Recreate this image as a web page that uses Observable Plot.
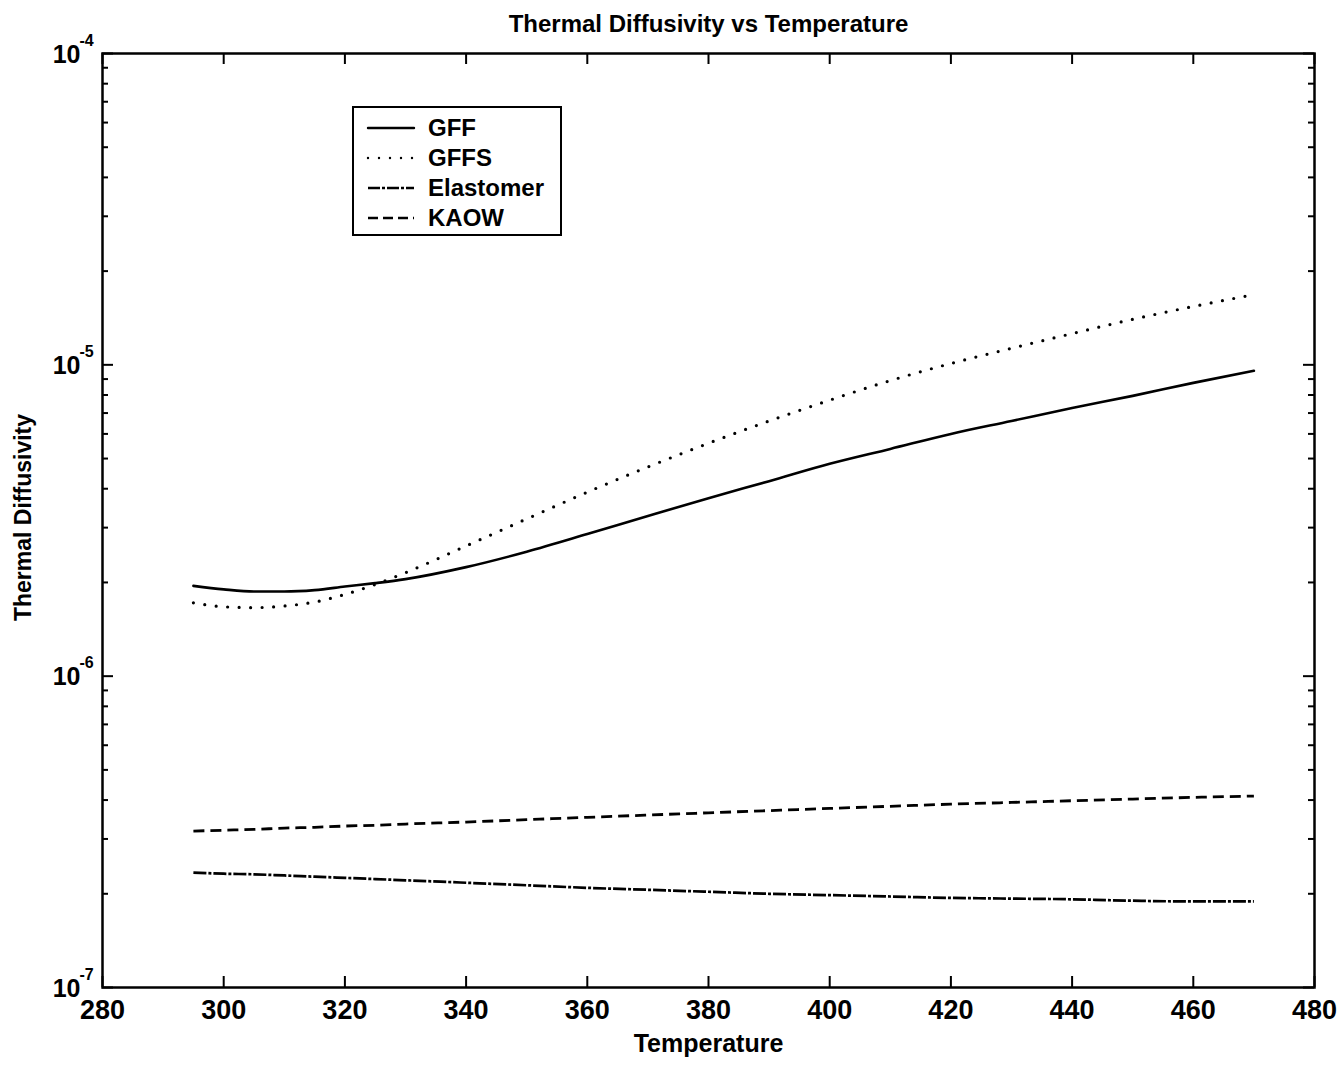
<!DOCTYPE html>
<html>
<head>
<meta charset="utf-8">
<script src="https://cdn.jsdelivr.net/npm/d3@7"></script>
<script src="https://cdn.jsdelivr.net/npm/@observablehq/plot@0.6"></script>
<style>
  html, body { margin: 0; padding: 0; background: #fff; }
  #wrap { position: relative; width: 1343px; height: 1066px; font-family: "Liberation Sans", Arial, sans-serif; }
  #legend { position: absolute; left: 352px; top: 106px; width: 210px; height: 130px; border: 2px solid #000; background: #fff; box-sizing: border-box; }
  .row { position: absolute; left: 0; height: 30px; display: flex; align-items: center; }
  .row span { font-size: 24px; font-weight: bold; color: #000; }
</style>
</head>
<body>
<div id="wrap"></div>
<script>
const temperature = [295,300,305,310,315,320,325,330,340,350,360,370,380,390,400,410,420,430,440,450,460,470];
const gff = [1.95e-6,1.90e-6,1.87e-6,1.87e-6,1.89e-6,1.94e-6,1.99e-6,2.05e-6,2.24e-6,2.51e-6,2.86e-6,3.27e-6,3.73e-6,4.23e-6,4.81e-6,5.37e-6,6.00e-6,6.60e-6,7.27e-6,7.95e-6,8.75e-6,9.57e-6];
const gffs = [1.72e-6,1.67e-6,1.66e-6,1.68e-6,1.73e-6,1.83e-6,1.97e-6,2.15e-6,2.62e-6,3.20e-6,3.90e-6,4.70e-6,5.60e-6,6.60e-6,7.70e-6,8.90e-6,1.01e-5,1.13e-5,1.26e-5,1.40e-5,1.54e-5,1.68e-5];
const elastomer = [2.34e-7,2.32e-7,2.31e-7,2.29e-7,2.27e-7,2.25e-7,2.23e-7,2.21e-7,2.17e-7,2.13e-7,2.09e-7,2.06e-7,2.03e-7,2.00e-7,1.98e-7,1.96e-7,1.94e-7,1.93e-7,1.92e-7,1.90e-7,1.89e-7,1.89e-7];
const kaow = [3.18e-7,3.20e-7,3.22e-7,3.25e-7,3.27e-7,3.30e-7,3.32e-7,3.35e-7,3.40e-7,3.46e-7,3.52e-7,3.58e-7,3.64e-7,3.70e-7,3.76e-7,3.82e-7,3.88e-7,3.93e-7,3.98e-7,4.03e-7,4.08e-7,4.12e-7];
const xTicks = [280,300,320,340,360,380,400,420,440,460,480];
const decades = [1e-7,1e-6,1e-5,1e-4];
const seriesNames = ["GFF","GFFS","Elastomer","KAOW"];

const W = 1343, H = 1066;
const mL = 102, mR = 29, mT = 53, mB = 79;
const pw = W - mL - mR, ph = H - mT - mB;

const styles = {
  GFF: {strokeWidth: 2.6, strokeDasharray: null, strokeLinecap: "round"},
  GFFS: {strokeWidth: 3.2, strokeDasharray: "0 11.5", strokeLinecap: "round"},
  Elastomer: {strokeWidth: 2.7, strokeDasharray: "13 2 3 2", strokeLinecap: "butt"},
  KAOW: {strokeWidth: 2.8, strokeDasharray: "11 6", strokeLinecap: "butt"}
};
const legendDash = {GFF: null, GFFS: "0 11", Elastomer: "12 2 3 2", KAOW: "10 5"};
const allValues = {GFF: gff, GFFS: gffs, Elastomer: elastomer, KAOW: kaow};

const minorTicks = [];
for (const d of decades.slice(0, 3)) for (let k = 2; k <= 9; k++) minorTicks.push(d * k);

const font = "Liberation Sans, Arial, sans-serif";

const lineMarks = seriesNames.map(name => {
  const rows = temperature.map((t, i) => ({t, v: allValues[name][i]}));
  return Plot.line(rows, {x: "t", y: "v", stroke: "#000", ...styles[name], curve: "monotone-x"});
});

const tickStyle = {stroke: "#000", strokeOpacity: 1, strokeWidth: 2};
const txt = {fill: "#000", fontWeight: "bold", lineAnchor: "middle"};

const chart = Plot.plot({
  width: W, height: H,
  marginLeft: mL, marginRight: mR, marginTop: mT, marginBottom: mB,
  style: {fontFamily: font, background: "#fff", color: "#000", fontWeight: "bold"},
  x: {type: "linear", domain: [280, 480], axis: null},
  y: {type: "log", domain: [1e-7, 1e-4], axis: null},
  marks: [
    // inward ticks on all four sides
    Plot.gridX(xTicks, {...tickStyle, insetTop: ph - 11}),
    Plot.gridX(xTicks, {...tickStyle, insetBottom: ph - 11}),
    Plot.gridY(decades, {...tickStyle, insetRight: pw - 11}),
    Plot.gridY(decades, {...tickStyle, insetLeft: pw - 11}),
    Plot.gridY(minorTicks, {...tickStyle, insetRight: pw - 6}),
    Plot.gridY(minorTicks, {...tickStyle, insetLeft: pw - 6}),
    ...lineMarks,
    Plot.frame({stroke: "#000", strokeWidth: 2.5}),
    // x tick labels
    Plot.text(xTicks, {...txt, x: d => d, frameAnchor: "bottom", dy: 23, text: d => String(d), fontSize: 27}),
    // y tick labels 10^n
    Plot.text(decades, {...txt, y: d => d, frameAnchor: "left", dx: -22, dy: 1, textAnchor: "end", text: () => "10", fontSize: 25}),
    Plot.text(decades, {...txt, y: d => d, frameAnchor: "left", dx: -23, dy: -13, textAnchor: "start", text: d => String(Math.round(Math.log10(d))), fontSize: 16}),
    // title and axis labels
    Plot.text(["Thermal Diffusivity vs Temperature"], {...txt, frameAnchor: "top", dy: -29, text: d => d, fontSize: 24}),
    Plot.text(["Temperature"], {...txt, frameAnchor: "bottom", dy: 56, text: d => d, fontSize: 25}),
    Plot.text(["Thermal Diffusivity"], {...txt, frameAnchor: "left", textAnchor: "middle", dx: -79, dy: -3, rotate: -90, text: d => d, fontSize: 23})
  ]
});

const wrap = document.getElementById("wrap");
wrap.appendChild(chart);

// legend
const legend = document.createElement("div");
legend.id = "legend";
seriesNames.forEach((name, i) => {
  const row = document.createElement("div");
  row.className = "row";
  row.style.top = (5 + i * 30) + "px";
  const st = styles[name];
  const svgNS = "http://www.w3.org/2000/svg";
  const svg = document.createElementNS(svgNS, "svg");
  svg.setAttribute("width", 62); svg.setAttribute("height", 30);
  svg.style.marginLeft = "12px";
  const ln = document.createElementNS(svgNS, "line");
  ln.setAttribute("x1", 2); ln.setAttribute("x2", 48); ln.setAttribute("y1", 15); ln.setAttribute("y2", 15);
  ln.setAttribute("stroke", "#000"); ln.setAttribute("stroke-width", 2.4);
  if (legendDash[name]) ln.setAttribute("stroke-dasharray", legendDash[name]);
  ln.setAttribute("stroke-linecap", st.strokeLinecap);
  svg.appendChild(ln);
  row.appendChild(svg);
  const sp = document.createElement("span");
  sp.textContent = name;
  row.appendChild(sp);
  legend.appendChild(row);
});
wrap.appendChild(legend);
</script>
</body>
</html>
